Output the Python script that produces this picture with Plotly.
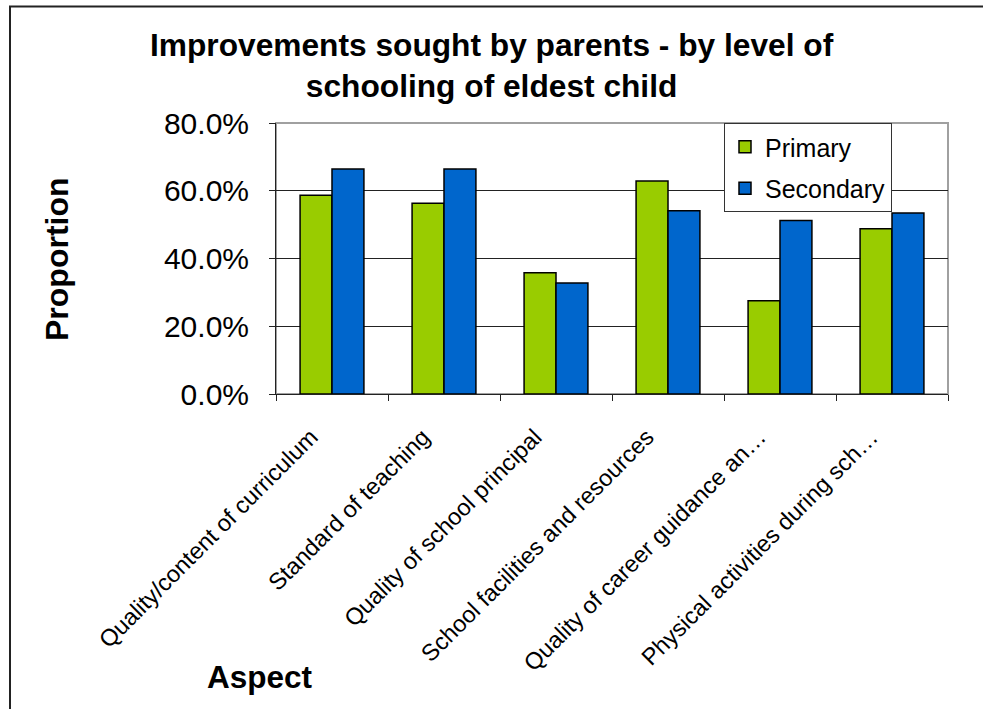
import plotly.graph_objects as go

categories = [
    "Quality/content of curriculum",
    "Standard of teaching",
    "Quality of school principal",
    "School facilities and resources",
    "Quality of career guidance an…",
    "Physical activities during sch…",
]
primary = [0.587, 0.563, 0.358, 0.629, 0.275, 0.488]
secondary = [0.664, 0.664, 0.328, 0.541, 0.512, 0.534]
y_ticks = [0.0, 0.2, 0.4, 0.6, 0.8]

FONT = "Liberation Sans, Arial, sans-serif"
W, H = 983, 709
# desired plot area in page pixels: x 276..948, y 123..394
L, T = 276, 123
R = W - 948
B = H - 394
pw = W - L - R
ph = H - T - B

def px(xp):
    return (xp - L) / pw

def py(yp):
    return (H - B - yp) / ph

fig = go.Figure()
fig.add_trace(go.Bar(
    x=categories, y=primary, name="Primary", legendgroup="p",
    marker=dict(color="#99CC00", line=dict(color="black", width=1.5)),
))
fig.add_trace(go.Bar(
    x=categories, y=secondary, name="Secondary", legendgroup="s",
    marker=dict(color="#0066CC", line=dict(color="black", width=1.5)),
))

fig.update_layout(
    width=W, height=H,
    margin=dict(l=L, r=R, t=T, b=B),
    paper_bgcolor="white", plot_bgcolor="white",
    barmode="group", bargap=0.43, bargroupgap=0,
    font=dict(family=FONT, color="black"),
    showlegend=True,
    legend=dict(
        x=px(724), y=1.0, xanchor="left", yanchor="top",
        bordercolor="#333", borderwidth=1, bgcolor="white",
        font=dict(size=25, family=FONT),
        tracegroupgap=6, traceorder="grouped",
    ),
    xaxis=dict(
        tickangle=-45, tickfont=dict(size=23.5, family=FONT),
        showline=True, linecolor="#222", linewidth=1,
        ticks="outside", ticklen=6, tickcolor="#222",
        tickson="boundaries", showgrid=False,
        ticklabelstandoff=19, ticklabelshift=-21,
    ),
    yaxis=dict(
        range=[0, 0.8], tickvals=y_ticks, tickformat=".1%",
        tickfont=dict(size=30, family=FONT),
        showline=True, linecolor="#222", linewidth=1,
        ticks="outside", ticklen=6, tickcolor="#222",
        ticklabelstandoff=14,
        showgrid=True, gridcolor="#222", gridwidth=1, zeroline=False,
    ),
    shapes=[
        dict(type="rect", xref="paper", yref="paper", x0=0, x1=1, y0=0, y1=1,
             line=dict(color="#a0a0a0", width=2), layer="below"),
        dict(type="rect", xref="paper", yref="paper",
             x0=px(10), x1=1.3, y0=-1.3, y1=py(6.5),
             line=dict(color="#222", width=2)),
    ],
    annotations=[
        dict(text="<b>Improvements sought by parents - by level of<br>schooling of eldest child</b>",
             xref="paper", yref="paper", x=px(492), y=py(65),
             xanchor="center", yanchor="middle", showarrow=False,
             font=dict(size=31.7, family=FONT)),
        dict(text="<b>Proportion</b>", xref="paper", yref="paper",
             x=px(57), y=py(259), textangle=-90,
             xanchor="center", yanchor="middle", showarrow=False,
             font=dict(size=32, family=FONT)),
        dict(text="<b>Aspect</b>", xref="paper", yref="paper",
             x=px(260), y=py(677),
             xanchor="center", yanchor="middle", showarrow=False,
             font=dict(size=31.5, family=FONT)),
    ],
)

fig.write_html(
    "out.html",
    config={"displayModeBar": False},
    post_script="document.body.style.margin='0';document.body.style.overflow='hidden';",
)
